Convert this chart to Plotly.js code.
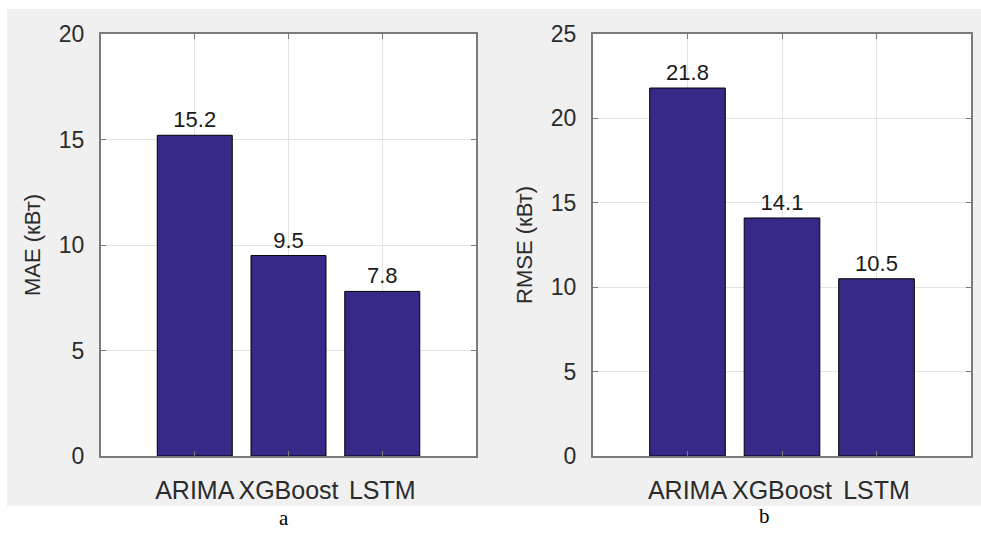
<!DOCTYPE html>
<html>
<head>
<meta charset="utf-8">
<script src="https://cdn.plot.ly/plotly-3.0.1.min.js"></script>
<style>html,body{margin:0;padding:0;background:#fff;}#chart{width:981px;height:536px;}</style>
</head>
<body>
<div id="chart"></div>
<script>
// Data
const models = ["ARIMA", "XGBoost", "LSTM"];
const positions = [1, 2, 3];
const maeValues = [15.2, 9.5, 7.8];
const rmseValues = [21.8, 14.1, 10.5];
const maeTitle = "MAE (кВт)";
const rmseTitle = "RMSE (кВт)";
const panelLabels = ["a", "b"];

const W = 981, H = 536;
const px = v => v / W;
const py = v => 1 - v / H;

const barColor = "#352a87";
const axisColor = "#7a7a7a";
const textColor = "#2b2b2b";
const font = "Liberation Sans, Arial, sans-serif";

function barTrace(vals, xa, ya) {
  return {
    type: "bar",
    x: positions,
    y: vals,
    width: 0.8,
    xaxis: xa,
    yaxis: ya,
    marker: {color: barColor, line: {color: "#000", width: 1}},
    text: vals.map(v => v.toFixed(1)),
    textposition: "outside",
    textfont: {family: font, size: 22, color: "#1a1a1a"},
    cliponaxis: false,
    hoverinfo: "none",
    showlegend: false
  };
}

function xAxis(domain, anchor) {
  return {
    domain: domain, anchor: anchor, range: [0, 4],
    tickvals: positions, ticktext: models,
    showgrid: true, gridcolor: "#e3e3e3", gridwidth: 1,
    zeroline: false, showline: true, linecolor: axisColor, linewidth: 2,
    mirror: "ticks", ticks: "inside", ticklen: 5, tickcolor: axisColor,
    tickfont: {family: font, size: 25, color: textColor},
    ticklabelstandoff: 11, fixedrange: true
  };
}

function yAxis(domain, anchor, range, title, standoff) {
  return {
    domain: domain, anchor: anchor, range: range, dtick: 5, tick0: 0,
    showgrid: true, gridcolor: "#e3e3e3", gridwidth: 1,
    zeroline: false, showline: true, linecolor: axisColor, linewidth: 2,
    mirror: "ticks", ticks: "inside", ticklen: 5, tickcolor: axisColor,
    tickfont: {family: font, size: 23, color: textColor},
    ticklabelstandoff: 10,
    title: {text: title, font: {family: font, size: 22, color: textColor}, standoff: standoff},
    fixedrange: true
  };
}

const data = [
  barTrace(maeValues, "x", "y"),
  barTrace(rmseValues, "x2", "y2")
];

const yDom = [py(456), py(34)];

const layout = {
  width: W, height: H,
  margin: {l: 0, r: 0, t: 0, b: 0},
  paper_bgcolor: "#f0f0f0",
  plot_bgcolor: "#ffffff",
  xaxis: xAxis([px(101), px(476)], "y"),
  yaxis: yAxis(yDom, "x", [0, 20], maeTitle, 12),
  xaxis2: xAxis([px(593), px(971)], "y2"),
  yaxis2: yAxis(yDom, "x2", [0, 25], rmseTitle, 12),
  shapes: [
    {type: "rect", xref: "paper", yref: "paper", x0: 0, x1: 1, y0: py(506), y1: 0, fillcolor: "#ffffff", line: {width: 0}, layer: "below"},
    {type: "rect", xref: "paper", yref: "paper", x0: 0, x1: 1, y0: 1, y1: py(9), fillcolor: "#ffffff", line: {width: 0}, layer: "below"},
    {type: "rect", xref: "paper", yref: "paper", x0: 0, x1: px(7), y0: 0, y1: 1, fillcolor: "#ffffff", line: {width: 0}, layer: "below"}
  ],
  annotations: [
    {text: panelLabels[0], xref: "paper", yref: "paper", x: px(284), y: py(518), showarrow: false,
     font: {family: "Liberation Serif, Times New Roman, serif", size: 21, color: "#000"}, xanchor: "center", yanchor: "middle"},
    {text: panelLabels[1], xref: "paper", yref: "paper", x: px(764), y: py(516), showarrow: false,
     font: {family: "Liberation Serif, Times New Roman, serif", size: 21, color: "#000"}, xanchor: "center", yanchor: "middle"}
  ],
  bargap: 0.2
};

Plotly.newPlot("chart", data, layout, {displayModeBar: false, staticPlot: true});
</script>
</body>
</html>
